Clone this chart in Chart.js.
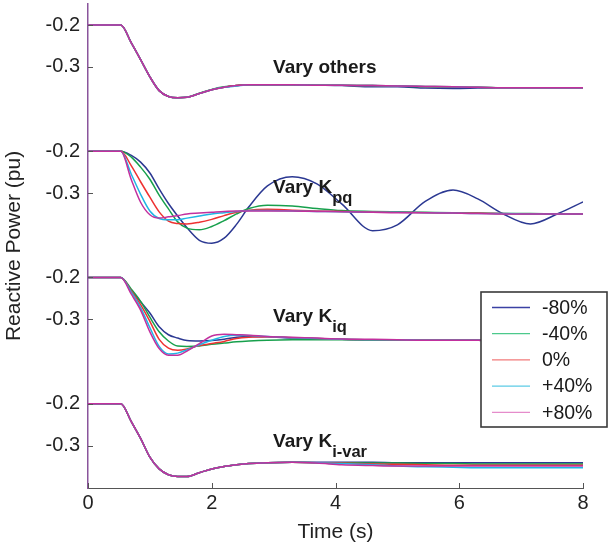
<!DOCTYPE html>
<html lang="en">
<head>
    <meta charset="UTF-8"/>
    <title>Reactive Power Sensitivity</title>
    <script src="https://cdn.jsdelivr.net/npm/chart.js"></script>
    <style>
        html, body {
            margin: 0;
            padding: 0;
            background: #fff;
            width: 608px;
            height: 548px;
            overflow: hidden;
        }
        .chart-box {
            position: relative;
            width: 608px;
            height: 548px;
        }
    </style>
</head>
<body>
<div class="chart-box">
    <canvas id="qChart"></canvas>
</div>

<script>
    // time samples (s), shared by every trace
    const timeS = [0, 0.53, 0.7, 0.85, 1.0, 1.15, 1.3, 1.45, 1.6, 1.8, 2.0, 2.2, 2.4, 2.6, 2.9, 3.3, 3.7, 4.1, 4.6, 5.0, 5.45, 5.9, 6.3, 6.7, 7.15, 7.6, 8.0];

    const legendLabels = ['-80%', '-40%', '0%', '+40%', '+80%'];
    const yTickValues = [-0.2, -0.3];
    const xTickValues = [0, 2, 4, 6, 8];

    // panel 1: vary others
    const othersM80 = [-0.2, -0.2, -0.243, -0.283, -0.324, -0.357, -0.371, -0.374, -0.373, -0.364, -0.355, -0.349, -0.345, -0.343, -0.343, -0.343, -0.344, -0.345, -0.348, -0.348, -0.351, -0.352, -0.351, -0.35, -0.35, -0.35, -0.35];
    const othersM40 = [-0.2, -0.2, -0.243, -0.283, -0.324, -0.357, -0.371, -0.374, -0.373, -0.363, -0.354, -0.348, -0.345, -0.343, -0.343, -0.343, -0.344, -0.344, -0.345, -0.346, -0.348, -0.349, -0.349, -0.35, -0.35, -0.35, -0.35];
    const others0   = [-0.2, -0.2, -0.243, -0.283, -0.324, -0.357, -0.371, -0.374, -0.373, -0.364, -0.355, -0.349, -0.345, -0.343, -0.343, -0.343, -0.344, -0.344, -0.345, -0.346, -0.347, -0.348, -0.349, -0.35, -0.35, -0.35, -0.35];
    const othersP40 = [-0.2, -0.2, -0.243, -0.283, -0.324, -0.357, -0.371, -0.374, -0.373, -0.364, -0.355, -0.349, -0.346, -0.343, -0.343, -0.343, -0.344, -0.344, -0.345, -0.346, -0.347, -0.348, -0.349, -0.35, -0.35, -0.35, -0.35];
    const othersP80 = [-0.2, -0.2, -0.243, -0.283, -0.324, -0.357, -0.371, -0.374, -0.373, -0.364, -0.355, -0.349, -0.345, -0.343, -0.343, -0.343, -0.344, -0.344, -0.345, -0.346, -0.347, -0.348, -0.349, -0.35, -0.35, -0.35, -0.35];

    // panel 2: vary Kpq
    const kpqM80 = [-0.2, -0.2, -0.21, -0.226, -0.252, -0.29, -0.325, -0.355, -0.383, -0.413, -0.42, -0.408, -0.375, -0.333, -0.283, -0.261, -0.278, -0.326, -0.39, -0.376, -0.32, -0.293, -0.314, -0.349, -0.374, -0.349, -0.321];
    const kpqM40 = [-0.2, -0.2, -0.214, -0.238, -0.267, -0.305, -0.338, -0.369, -0.384, -0.388, -0.38, -0.366, -0.35, -0.337, -0.329, -0.331, -0.337, -0.342, -0.344, -0.345, -0.346, -0.347, -0.348, -0.349, -0.349, -0.35, -0.35];
    const kpq0   = [-0.2, -0.2, -0.235, -0.273, -0.31, -0.345, -0.367, -0.373, -0.374, -0.37, -0.363, -0.354, -0.346, -0.341, -0.339, -0.341, -0.343, -0.344, -0.345, -0.346, -0.347, -0.348, -0.348, -0.349, -0.35, -0.35, -0.35];
    const kpqP40 = [-0.2, -0.2, -0.255, -0.303, -0.343, -0.361, -0.364, -0.364, -0.36, -0.355, -0.35, -0.347, -0.344, -0.342, -0.342, -0.343, -0.344, -0.345, -0.346, -0.346, -0.347, -0.348, -0.349, -0.349, -0.35, -0.35, -0.35];
    const kpqP80 = [-0.2, -0.2, -0.268, -0.322, -0.352, -0.36, -0.357, -0.354, -0.35, -0.348, -0.346, -0.344, -0.343, -0.343, -0.343, -0.343, -0.344, -0.345, -0.346, -0.347, -0.347, -0.348, -0.349, -0.35, -0.35, -0.35, -0.35];

    // panel 3: vary Kiq
    const kiqM80 = [-0.2, -0.2, -0.232, -0.258, -0.285, -0.318, -0.337, -0.345, -0.351, -0.352, -0.351, -0.348, -0.343, -0.341, -0.342, -0.345, -0.347, -0.348, -0.349, -0.349, -0.35, -0.35, -0.35, -0.351, -0.351, -0.351, -0.351];
    const kiqM40 = [-0.2, -0.2, -0.228, -0.257, -0.295, -0.33, -0.352, -0.364, -0.365, -0.364, -0.36, -0.357, -0.354, -0.352, -0.35, -0.349, -0.349, -0.349, -0.35, -0.35, -0.35, -0.35, -0.35, -0.351, -0.351, -0.351, -0.351];
    const kiq0   = [-0.2, -0.2, -0.232, -0.265, -0.305, -0.348, -0.369, -0.374, -0.371, -0.363, -0.358, -0.353, -0.346, -0.343, -0.342, -0.344, -0.346, -0.348, -0.349, -0.349, -0.35, -0.35, -0.35, -0.351, -0.351, -0.351, -0.351];
    const kiqP40 = [-0.2, -0.2, -0.235, -0.272, -0.32, -0.365, -0.383, -0.381, -0.373, -0.361, -0.35, -0.341, -0.338, -0.339, -0.341, -0.344, -0.346, -0.348, -0.349, -0.349, -0.35, -0.35, -0.35, -0.351, -0.351, -0.351, -0.351];
    const kiqP80 = [-0.2, -0.2, -0.24, -0.278, -0.33, -0.37, -0.386, -0.386, -0.376, -0.358, -0.34, -0.336, -0.337, -0.338, -0.341, -0.343, -0.345, -0.347, -0.348, -0.349, -0.35, -0.35, -0.35, -0.351, -0.351, -0.351, -0.351];

    // panel 4: vary Ki-var
    const kivarM80 = [-0.2, -0.2, -0.243, -0.283, -0.328, -0.356, -0.37, -0.374, -0.374, -0.365, -0.356, -0.35, -0.346, -0.343, -0.341, -0.34, -0.34, -0.34, -0.34, -0.341, -0.341, -0.341, -0.341, -0.341, -0.341, -0.341, -0.341];
    const kivarM40 = [-0.2, -0.2, -0.243, -0.283, -0.328, -0.356, -0.37, -0.374, -0.374, -0.365, -0.356, -0.35, -0.346, -0.343, -0.341, -0.34, -0.341, -0.341, -0.342, -0.342, -0.343, -0.343, -0.344, -0.344, -0.344, -0.344, -0.344];
    const kivar0   = [-0.2, -0.2, -0.243, -0.283, -0.328, -0.356, -0.37, -0.374, -0.374, -0.365, -0.356, -0.35, -0.346, -0.343, -0.341, -0.34, -0.341, -0.342, -0.344, -0.345, -0.346, -0.347, -0.347, -0.347, -0.347, -0.347, -0.347];
    const kivarP40 = [-0.2, -0.2, -0.243, -0.283, -0.328, -0.356, -0.37, -0.374, -0.374, -0.365, -0.356, -0.35, -0.346, -0.343, -0.341, -0.34, -0.341, -0.343, -0.346, -0.349, -0.351, -0.352, -0.353, -0.353, -0.353, -0.353, -0.353];
    const kivarP80 = [-0.2, -0.2, -0.243, -0.283, -0.328, -0.356, -0.37, -0.374, -0.374, -0.365, -0.356, -0.35, -0.346, -0.343, -0.341, -0.34, -0.342, -0.346, -0.348, -0.349, -0.349, -0.349, -0.349, -0.349, -0.349, -0.349, -0.349];

    const panels = [
        [othersM80, othersM40, others0, othersP40, othersP80],
        [kpqM80, kpqM40, kpq0, kpqP40, kpqP80],
        [kiqM80, kiqM40, kiq0, kiqP40, kiqP80],
        [kivarM80, kivarM40, kivar0, kivarP40, kivarP80]
    ];

    // panel captions, anchored at (time, value of that panel)
    const captions = [
        { panel: 0, t: 2.99, v: -0.315, main: 'Vary others', sub: '' },
        { panel: 1, t: 2.99, v: -0.301, main: 'Vary K', sub: 'pq' },
        { panel: 2, t: 2.99, v: -0.307, main: 'Vary K', sub: 'iq' },
        { panel: 3, t: 2.99, v: -0.304, main: 'Vary K', sub: 'i-var' }
    ];

    const PANEL_SHIFT = 0.302;   // each panel is stacked 0.302 pu lower on one axis
    const lineColors = ['#2b3892', '#17a04c', '#ee3131', '#20b6e4', '#c2309e'];
    const legendColors = ['#3b41a4', '#4cc98c', '#f27a7a', '#5ccbe6', '#e58ccb'];
    const FONT = '"Liberation Sans", Arial, sans-serif';

    Chart.defaults.font.family = FONT;
    Chart.defaults.color = '#222';

    const datasets = [];
    panels.forEach((series, p) => {
        series.forEach((vals, k) => {
            datasets.push({
                label: legendLabels[k],
                data: timeS.map((t, i) => ({ x: t, y: vals[i] - p * PANEL_SHIFT })),
                borderColor: lineColors[k],
                borderWidth: 1.5,
                pointRadius: 0,
                fill: false,
                cubicInterpolationMode: 'monotone',
                order: 4 - k
            });
        });
    });

    const yTicks = [];
    const yTickText = [];
    panels.forEach((s, p) => {
        yTickValues.forEach(v => {
            yTicks.push(v - p * PANEL_SHIFT);
            yTickText.push(v.toFixed(1));
        });
    });

    // inward tick marks, captions and the legend box
    const extras = {
        id: 'extras',
        afterDatasetsDraw(chart) {
            const { ctx, chartArea, scales: { x, y } } = chart;
            ctx.save();

            ctx.strokeStyle = '#555';
            ctx.lineWidth = 1;
            ctx.beginPath();
            xTickValues.forEach(v => {
                const px = Math.round(x.getPixelForValue(v)) + 0.5;
                ctx.moveTo(px, chartArea.bottom);
                ctx.lineTo(px, chartArea.bottom - 5);
            });
            yTicks.forEach(v => {
                const py = Math.round(y.getPixelForValue(v)) + 0.5;
                ctx.moveTo(chartArea.left, py);
                ctx.lineTo(chartArea.left + 5, py);
            });
            ctx.stroke();

            ctx.fillStyle = '#1a1a1a';
            ctx.textAlign = 'left';
            ctx.textBaseline = 'alphabetic';
            captions.forEach(c => {
                const px = x.getPixelForValue(c.t);
                const py = y.getPixelForValue(c.v - c.panel * PANEL_SHIFT);
                ctx.font = 'bold 19px ' + FONT;
                ctx.fillText(c.main, px, py);
                if (c.sub) {
                    const w = ctx.measureText(c.main).width;
                    ctx.font = 'bold 16.5px ' + FONT;
                    ctx.fillText(c.sub, px + w, py + 10);
                }
            });

            // legend
            const bx = 481, by = 292, bw = 126, bh = 135;
            ctx.fillStyle = '#fff';
            ctx.fillRect(bx, by, bw, bh);
            ctx.strokeStyle = '#3a3a3a';
            ctx.lineWidth = 1.6;
            ctx.strokeRect(bx, by, bw, bh);
            ctx.font = '19.5px ' + FONT;
            ctx.textBaseline = 'middle';
            legendLabels.forEach((lab, k) => {
                const ry = by + 15.5 + k * 26.2;
                ctx.strokeStyle = legendColors[k];
                ctx.lineWidth = 1.3;
                ctx.beginPath();
                ctx.moveTo(bx + 11, ry);
                ctx.lineTo(bx + 49, ry);
                ctx.stroke();
                ctx.fillStyle = '#1a1a1a';
                ctx.fillText(lab, bx + 61, ry + 1);
            });
            ctx.restore();
        }
    };

    new Chart(document.getElementById('qChart').getContext('2d'), {
        type: 'line',
        data: { datasets },
        options: {
            responsive: true,
            maintainAspectRatio: false,
            animation: false,
            layout: { padding: { top: 4, right: 25, left: 0, bottom: 0 } },
            plugins: {
                legend: { display: false },
                tooltip: { enabled: false }
            },
            scales: {
                x: {
                    type: 'linear',
                    min: 0,
                    max: 8,
                    ticks: { stepSize: 2, padding: 3, font: { size: 20 }, color: '#222' },
                    grid: { display: false, drawTicks: false },
                    border: { display: true, color: '#555', width: 1 },
                    title: { display: true, text: 'Time (s)', font: { size: 21 }, color: '#222', padding: { top: 0, bottom: 3 } },
                    afterFit: s => { s.height = 60; s.paddingLeft = 0; s.paddingRight = 0; }
                },
                y: {
                    type: 'linear',
                    min: -0.2 - 463 / 418,
                    max: -0.2 + 21 / 418,
                    afterBuildTicks: s => { s.ticks = yTicks.map(v => ({ value: v })); },
                    ticks: {
                        padding: 8,
                        font: { size: 20 },
                        color: '#222',
                        autoSkip: false,
                        callback: (v, i) => yTickText[i]
                    },
                    grid: { display: false, drawTicks: false },
                    border: { display: true, color: '#8a559c', width: 1.5 },
                    title: { display: true, text: 'Reactive Power (pu)', font: { size: 21 }, color: '#222', padding: { top: 2, bottom: 0 } },
                    afterFit: s => { s.width = 88; s.paddingTop = 0; s.paddingBottom = 0; }
                }
            }
        },
        plugins: [extras]
    });
</script>
</body>
</html>
